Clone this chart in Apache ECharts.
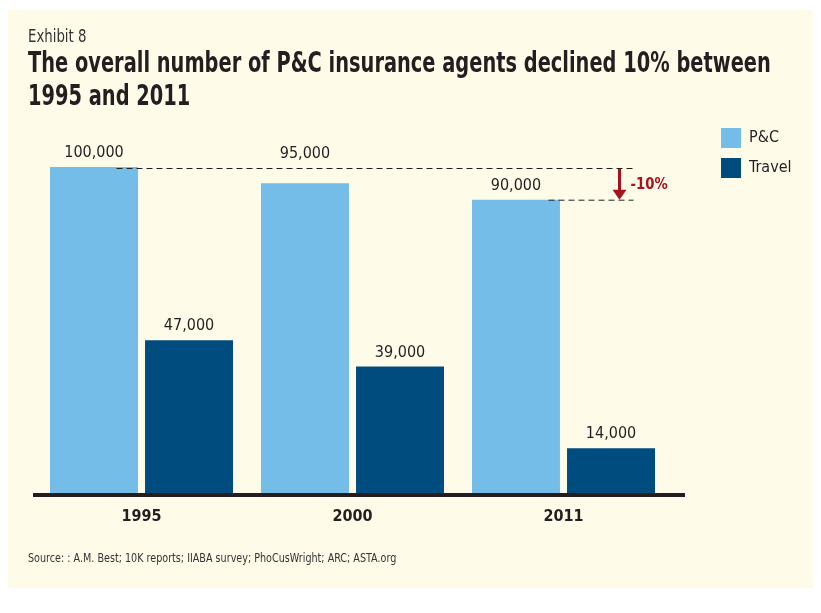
<!DOCTYPE html>
<html>
<head>
<meta charset="utf-8">
<script src="https://cdn.jsdelivr.net/npm/echarts@6/dist/echarts.min.js"></script>
<style>
  html, body { margin: 0; padding: 0; background: #ffffff; }
  #panel { position: absolute; left: 8px; top: 10px; width: 805px; height: 578px; background: #fffbe9; }
  #chart { position: absolute; left: 0; top: 0; width: 821px; height: 613px; }
</style>
</head>
<body>
<div id="panel"></div>
<div id="chart"></div>
<script>
const FONT = "'DejaVu Sans Condensed', 'Liberation Sans Narrow', sans-serif";
const years = ['1995', '2000', '2011'];
const pcValues = [100000, 95000, 90000];
const travelValues = [47000, 39000, 14000];
const seriesNames = ['P&C', 'Travel'];
const changeLabel = '-10%';
const exhibitText = 'Exhibit 8';
const titleLines = ['The overall number of P&C insurance agents declined 10% between', '1995 and 2011'];
const sourceText = 'Source: : A.M. Best; 10K reports; IIABA survey; PhoCusWright; ARC; ASTA.org';

const PC_COLOR = '#75bde9';
const TRAVEL_COLOR = '#004c7f';
const INK = '#231f20';
const RED = '#a6131a';

const chart = echarts.init(document.getElementById('chart'), null, { renderer: 'canvas' });

const labelStyle = {
  show: true, position: 'top', distance: 6,
  color: INK, fontSize: 16, fontFamily: FONT,
  formatter: p => p.value.toLocaleString('en-US')
};

// the 2000 P&C label is lifted above the dashed reference line
const pcData = pcValues.map((v, i) => i === 1 ? { value: v, label: { distance: 22 } } : v);

chart.setOption({
  backgroundColor: 'transparent',
  animation: false,
  legend: {
    orient: 'vertical', left: 721, top: 128, padding: 0,
    itemWidth: 20, itemHeight: 20, itemGap: 10, icon: 'rect',
    textStyle: { fontFamily: FONT, fontSize: 16, color: INK, padding: [0, 0, 0, 3] },
    data: seriesNames
  },
  grid: { left: 36, width: 633, top: 167, bottom: 119, containLabel: false },
  xAxis: {
    type: 'category', data: years,
    axisLine: { show: false }, axisTick: { show: false },
    axisLabel: { fontFamily: FONT, fontSize: 16, fontWeight: 'bold', color: INK, margin: 15 }
  },
  yAxis: { type: 'value', min: 0, max: 100000, show: false, splitLine: { show: false } },
  series: [
    { name: seriesNames[0], type: 'bar', data: pcData, barWidth: 88, barGap: '8%', itemStyle: { color: PC_COLOR }, label: labelStyle },
    { name: seriesNames[1], type: 'bar', data: travelValues, barWidth: 88, barGap: '8%', itemStyle: { color: TRAVEL_COLOR }, label: labelStyle }
  ]
});

// Annotations positioned through the chart's own scales
const p = (cat, val) => chart.convertToPixel({ gridIndex: 0 }, [cat, val]);
const zero = p(0, 0);
const top1 = p(0, pcValues[0]);
const top3 = p(2, pcValues[2]);
const gridLeft = p(0, 0)[0] - 105.5;
const gridRight = p(2, 0)[0] + 105.5;
const endX = top3[0] + 70;
const arrowX = top3[0] + 55;

const condensedText = (text, x, y, size, weight, color, sx) => ({
  type: 'text', z: 10, x: x, y: y, scaleX: sx,
  style: { text: text, fill: color, font: weight + ' ' + size + 'px ' + FONT, verticalAlign: 'middle' }
});

chart.setOption({
  graphic: [
    condensedText(exhibitText, 28, 38, 17, 'normal', '#333', 0.87),
    condensedText(titleLines[0], 28, 65, 28, 'bold', INK, 0.77),
    condensedText(titleLines[1], 28, 98, 28, 'bold', INK, 0.77),
    condensedText(sourceText, 28, 559, 12, 'normal', '#333', 0.89),
    { type: 'line', z: 10, shape: { x1: gridLeft - 3, y1: zero[1] + 1, x2: gridRight + 16, y2: zero[1] + 1 }, style: { stroke: INK, lineWidth: 4 } },
    { type: 'line', z: 10, shape: { x1: top1[0] - 25, y1: top1[1] + 1.5, x2: endX, y2: top1[1] + 1.5 }, style: { stroke: INK, lineWidth: 1, lineDash: [6, 4] } },
    { type: 'line', z: 10, shape: { x1: top3[0] - 15, y1: top3[1] + 0.5, x2: endX, y2: top3[1] + 0.5 }, style: { stroke: INK, lineWidth: 1, lineDash: [6, 4] } },
    { type: 'line', z: 10, shape: { x1: arrowX + 1, y1: top1[1] + 2, x2: arrowX + 1, y2: top3[1] - 8 }, style: { stroke: RED, lineWidth: 3 } },
    { type: 'polygon', z: 10, shape: { points: [[arrowX - 6, top3[1] - 10], [arrowX + 8, top3[1] - 10], [arrowX + 1, top3[1]]] }, style: { fill: RED } },
    { type: 'text', z: 10, x: arrowX + 12, y: (top1[1] + top3[1]) / 2 + 1, scaleX: 0.92, style: { text: changeLabel, fill: RED, font: 'bold 16px ' + FONT, verticalAlign: 'middle' } }
  ]
});
</script>
</body>
</html>
